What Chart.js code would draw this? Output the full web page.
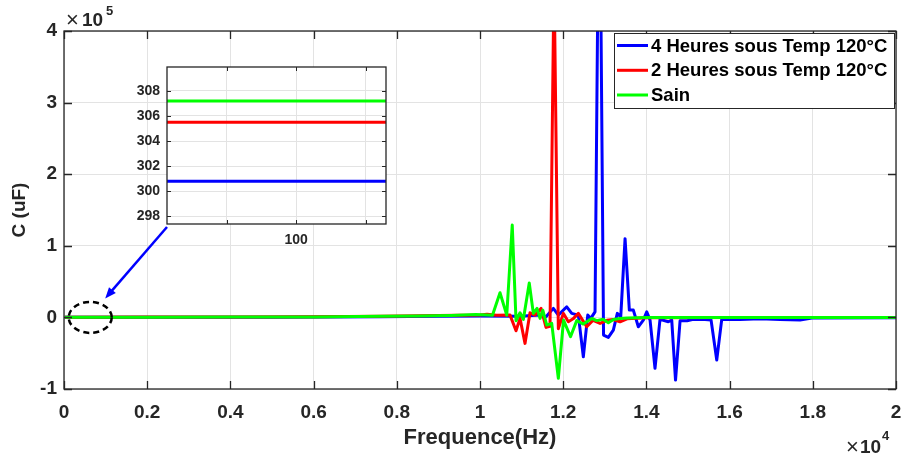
<!DOCTYPE html>
<html><head><meta charset="utf-8">
<script src="https://cdn.jsdelivr.net/npm/chart.js@4"></script>
<style>
html,body{margin:0;padding:0;background:#fff;}
#wrap{position:relative;width:903px;height:456px;overflow:hidden;}
#main{position:absolute;left:0;top:0;}
#inset{position:absolute;left:110px;top:55px;}
</style></head><body>
<div id="wrap"><canvas id="main" width="903" height="456"></canvas><canvas id="inset" width="290" height="200"></canvas></div>
<script>
// ---- data (capacitance in uF, frequency in Hz) ----
const seriesNames = ['4 Heures sous Temp 120°C', '2 Heures sous Temp 120°C', 'Sain'];
const seriesColors = ['#0000ff', '#ff0000', '#00ff00'];

const freqBlue = [20, 100, 2000, 5000, 7600, 9000, 10000, 10962, 11443, 11587, 11763, 11883, 12085, 12205, 12364, 12484, 12590, 12662, 12765, 12869, 12970, 13085, 13205, 13301, 13383, 13487, 13590, 13686, 13806, 13926, 14008, 14088, 14207, 14327, 14527, 14609, 14700, 14809, 14977, 15129, 15410, 15554, 15691, 15811, 16251, 16732, 17213, 17694, 17982, 20000];
const capBlue = [300.8, 300.8, 300, 300, 800, 1500, 2000, 1500, 3200, 1000, 12600, 3200, 14800, 5600, 3200, -55000, 3200, -1400, 7800, 690000, -24700, -28000, -17700, 5600, 800, 110000, 10200, 10200, -13100, -3800, 7800, -3800, -71000, -2800, -6100, -3800, -87500, -4700, -4700, -2800, -2800, -3500, -59600, -2800, -3000, -2000, -3000, -3500, -1000, -500];

const freqRed = [20, 100, 2000, 4000, 6000, 7600, 9000, 10000, 10169, 10400, 10722, 10866, 10962, 11082, 11202, 11322, 11467, 11587, 11683, 11780, 11883, 12003, 12124, 12237, 12364, 12566, 12718, 12886, 13054, 13198, 13366, 13535, 14000, 16000, 18000, 20000];
const capRed = [305.5, 305.5, 400, 600, 900, 1500, 2500, 3500, 4500, 3000, 3200, -18700, -1400, -36300, 6400, 3200, 12600, -14000, -12500, 480000, -16000, 5600, -6100, -2000, 5600, -13000, -4000, -8400, -4000, -3000, -6100, -2000, -500, -300, 0, 0];

const freqGreen = [20, 100, 2000, 4000, 6000, 7600, 8500, 9300, 9900, 10300, 10481, 10643, 10775, 10866, 10962, 11042, 11184, 11282, 11371, 11443, 11510, 11604, 11724, 11883, 12008, 12176, 12325, 12484, 12686, 12806, 12958, 13085, 13205, 13366, 13535, 14000, 16000, 18000, 20000];
const capGreen = [307.2, 307.2, 320, 450, 700, 1500, 2000, 2800, 4000, 3000, 34400, 3200, 129000, -4700, 6500, -2800, 48000, 5600, 12600, -1400, 10000, -10700, -8400, -85000, -3800, -27000, -4500, -9300, -1400, -4500, -2500, -7500, -2800, -1400, -700, -300, 0, 0, 0];

const xTickValues = [0, 2000, 4000, 6000, 8000, 10000, 12000, 14000, 16000, 18000, 20000];
const yTickValues = [-100000, 0, 100000, 200000, 300000, 400000];

// zoomed inset around 100 Hz
const insetFreq = [70, 100, 130];
const insetBlue = [300.8, 300.8, 300.8];
const insetRed = [305.5, 305.5, 305.5];
const insetGreen = [307.2, 307.2, 307.2];
const insetXTicks = [90, 100, 110];
const insetXLabels = ['', '100', ''];
const insetYTicks = [298, 300, 302, 304, 306, 308];

// ---- helpers ----
const FONT = "'Liberation Sans', Arial, Helvetica, sans-serif";
const AX = '#262626';
const GRID = '#e3e3e3';
function pts(xs, ys) { return xs.map((x, i) => ({x: x, y: ys[i]})); }
function ds(i, xs, ys, order) {
  return {label: seriesNames[i], data: pts(xs, ys), borderColor: seriesColors[i], backgroundColor: seriesColors[i],
    borderWidth: 3, pointRadius: 0, tension: 0, fill: false, order: order, borderJoinStyle: 'round'};
}
function noPadX(s, h) { s.height = h; s.paddingLeft = 0; s.paddingRight = 0; }
function noPadY(s, w) { s.width = w; s.paddingTop = 0; s.paddingBottom = 0; }

const mainDecor = {
  id: 'mainDecor',
  afterDraw(chart) {
    const c = chart.ctx, a = chart.chartArea, xs = chart.scales.x, ys = chart.scales.y;
    c.save();
    // box
    c.strokeStyle = AX; c.lineWidth = 1.3;
    c.strokeRect(a.left, a.top, a.right - a.left, a.bottom - a.top);
    // inward ticks
    c.beginPath();
    xTickValues.forEach(v => { const p = Math.round(xs.getPixelForValue(v)) + 0.5;
      c.moveTo(p, a.bottom); c.lineTo(p, a.bottom - 8); c.moveTo(p, a.top); c.lineTo(p, a.top + 8); });
    yTickValues.forEach(v => { const p = Math.round(ys.getPixelForValue(v)) + 0.5;
      c.moveTo(a.left, p); c.lineTo(a.left + 8, p); c.moveTo(a.right, p); c.lineTo(a.right - 8, p); });
    c.lineWidth = 1.3; c.stroke();

    // exponent labels
    c.fillStyle = AX; c.textBaseline = 'alphabetic'; c.textAlign = 'left';
    c.font = '22px ' + FONT; c.fillText('×', a.left + 2, 27);
    c.font = 'bold 19px ' + FONT; c.fillText('10', a.left + 18, 26);
    c.font = 'bold 13px ' + FONT; c.fillText('5', a.left + 42, 15);
    c.font = '22px ' + FONT; c.fillText('×', 846, 454);
    c.font = 'bold 19px ' + FONT; c.fillText('10', 860, 453);
    c.font = 'bold 13px ' + FONT; c.fillText('4', 882, 440);

    // axis titles
    c.textAlign = 'center'; c.textBaseline = 'middle';
    c.font = 'bold 22px ' + FONT;
    c.fillText('Frequence(Hz)', (a.left + a.right) / 2, 438);
    c.font = 'bold 19px ' + FONT;
    c.save(); c.translate(20, (a.top + a.bottom) / 2); c.rotate(-Math.PI / 2);
    c.fillText('C (uF)', 0, 0); c.restore();

    // legend
    const lx = 614, ly = 33, lw = 280, lh = 75;
    c.fillStyle = '#fff'; c.fillRect(lx, ly, lw, lh);
    c.strokeStyle = AX; c.lineWidth = 1; c.strokeRect(lx + 0.5, ly + 0.5, lw, lh);
    const rows = [45.5, 70.3, 95];
    c.font = 'bold 18.5px ' + FONT; c.textAlign = 'left'; c.textBaseline = 'middle';
    seriesNames.forEach((n, i) => {
      c.strokeStyle = seriesColors[i]; c.lineWidth = 3; c.beginPath();
      c.moveTo(lx + 3, rows[i]); c.lineTo(lx + 34, rows[i]); c.stroke();
      c.fillStyle = '#000'; c.fillText(n, lx + 37, rows[i] + 1);
    });

    // dashed ellipse around the zoomed region and arrow from the inset
    const ex = xs.getPixelForValue(630), ey = ys.getPixelForValue(0);
    c.setLineDash([6, 4]); c.strokeStyle = '#000'; c.lineWidth = 2.5;
    c.beginPath(); c.ellipse(ex, ey, 21.5, 15.5, 0, 0, Math.PI * 2); c.stroke();
    c.setLineDash([]);
    const sx = 167, sy = 227, tx = ex + 15, ty = ey - 19;
    c.strokeStyle = '#0000ff'; c.fillStyle = '#0000ff'; c.lineWidth = 2.5;
    const ang = Math.atan2(ty - sy, tx - sx);
    c.beginPath(); c.moveTo(sx, sy); c.lineTo(tx - 8 * Math.cos(ang), ty - 8 * Math.sin(ang)); c.stroke();
    c.beginPath(); c.moveTo(tx, ty);
    c.lineTo(tx - 11 * Math.cos(ang) + 4.5 * Math.sin(ang), ty - 11 * Math.sin(ang) - 4.5 * Math.cos(ang));
    c.lineTo(tx - 11 * Math.cos(ang) - 4.5 * Math.sin(ang), ty - 11 * Math.sin(ang) + 4.5 * Math.cos(ang));
    c.closePath(); c.fill();
    c.restore();
  }
};

new Chart(document.getElementById('main'), {
  type: 'line',
  data: {datasets: [ds(0, freqBlue, capBlue, 3), ds(1, freqRed, capRed, 2), ds(2, freqGreen, capGreen, 1)]},
  options: {
    responsive: false, animation: false, devicePixelRatio: 1,
    layout: {padding: {top: 31, right: 7, left: 0, bottom: 0}},
    plugins: {legend: {display: false}, tooltip: {enabled: false}, title: {display: false}},
    scales: {
      x: {type: 'linear', min: 0, max: 20000,
        afterBuildTicks: s => { s.ticks = xTickValues.map(v => ({value: v})); },
        afterFit: s => noPadX(s, 67),
        ticks: {callback: v => String(parseFloat((v / 10000).toFixed(1))), autoSkip: false, maxRotation: 0,
          font: {family: FONT, size: 19, weight: 'bold'}, color: AX, padding: 12},
        grid: {color: GRID, lineWidth: 1, drawTicks: false}, border: {display: false}},
      y: {type: 'linear', min: -100000, max: 400000,
        afterBuildTicks: s => { s.ticks = yTickValues.map(v => ({value: v})); },
        afterFit: s => noPadY(s, 64),
        ticks: {callback: v => String(v / 100000), font: {family: FONT, size: 19, weight: 'bold'}, color: AX, padding: 7},
        grid: {color: GRID, lineWidth: 1, drawTicks: false}, border: {display: false}}
    }
  },
  plugins: [mainDecor]
});

const insetDecor = {
  id: 'insetDecor',
  beforeDraw(chart) {
    const c = chart.ctx, a = chart.chartArea;
    c.save(); c.fillStyle = '#fff'; c.fillRect(a.left, a.top, a.right - a.left, a.bottom - a.top); c.restore();
  },
  afterDraw(chart) {
    const c = chart.ctx, a = chart.chartArea, xs = chart.scales.x, ys = chart.scales.y;
    c.save(); c.strokeStyle = AX; c.lineWidth = 1.3;
    c.strokeRect(a.left, a.top, a.right - a.left, a.bottom - a.top);
    c.beginPath();
    insetXTicks.forEach(v => { const p = Math.round(xs.getPixelForValue(v)) + 0.5;
      c.moveTo(p, a.bottom); c.lineTo(p, a.bottom - 4); c.moveTo(p, a.top); c.lineTo(p, a.top + 4); });
    insetYTicks.forEach(v => { const p = Math.round(ys.getPixelForValue(v)) + 0.5;
      c.moveTo(a.left, p); c.lineTo(a.left + 4, p); c.moveTo(a.right, p); c.lineTo(a.right - 4, p); });
    c.lineWidth = 1; c.stroke(); c.restore();
  }
};

new Chart(document.getElementById('inset'), {
  type: 'line',
  data: {datasets: [ds(0, insetFreq, insetBlue, 3), ds(1, insetFreq, insetRed, 2), ds(2, insetFreq, insetGreen, 1)]},
  options: {
    responsive: false, animation: false, devicePixelRatio: 1,
    layout: {padding: {top: 12, right: 14, left: 0, bottom: 0}},
    plugins: {legend: {display: false}, tooltip: {enabled: false}},
    scales: {
      x: {type: 'linear', min: 81.45, max: 112.9,
        afterBuildTicks: s => { s.ticks = insetXTicks.map(v => ({value: v})); },
        afterFit: s => noPadX(s, 31),
        ticks: {callback: (v, i) => insetXLabels[i], autoSkip: false, maxRotation: 0,
          font: {family: FONT, size: 14, weight: 'bold'}, color: AX, padding: 8},
        grid: {color: GRID, lineWidth: 1, drawTicks: false}, border: {display: false}},
      y: {type: 'linear', min: 297.4, max: 309.9,
        afterBuildTicks: s => { s.ticks = insetYTicks.map(v => ({value: v})); },
        afterFit: s => noPadY(s, 57),
        ticks: {callback: v => String(v), font: {family: FONT, size: 14, weight: 'bold'}, color: AX, padding: 7},
        grid: {color: GRID, lineWidth: 1, drawTicks: false}, border: {display: false}}
    }
  },
  plugins: [insetDecor]
});
</script>
</body></html>
